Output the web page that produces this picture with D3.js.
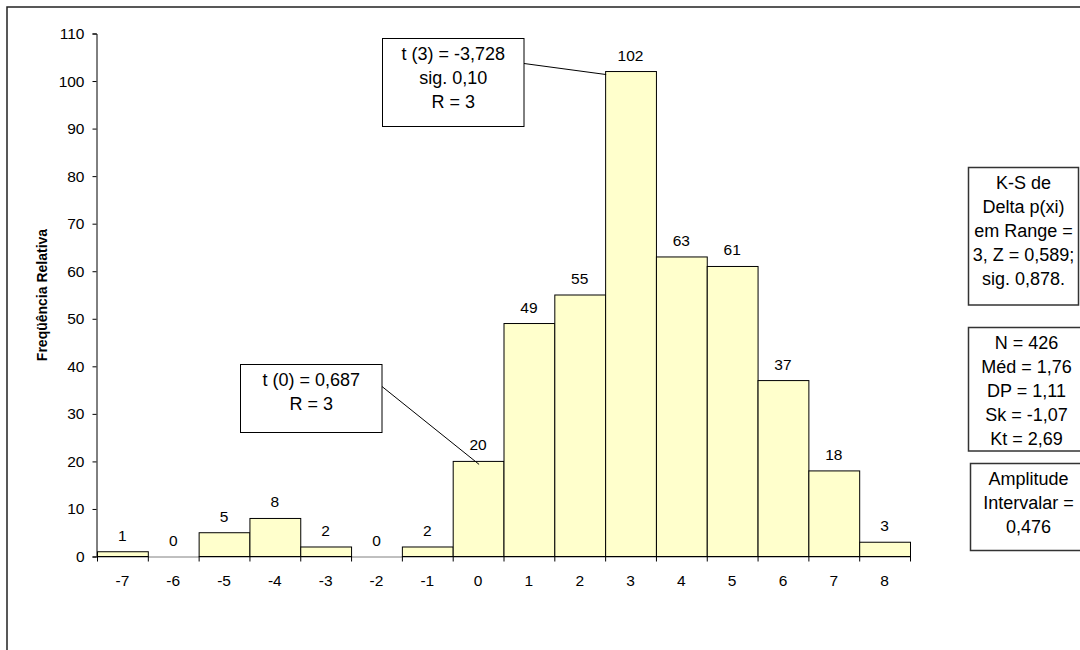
<!DOCTYPE html>
<html>
<head>
<meta charset="utf-8">
<script src="https://cdn.jsdelivr.net/npm/d3@7"></script>
<style>
  html, body { margin: 0; padding: 0; background: #fff; }
  svg { display: block; font-family: "Liberation Sans", Arial, sans-serif; }
</style>
</head>
<body>
<svg id="chart" width="1080" height="650"></svg>
<script>
// ---- data ----
const categories = ["-7","-6","-5","-4","-3","-2","-1","0","1","2","3","4","5","6","7","8"];
const frequencies = [1, 0, 5, 8, 2, 0, 2, 20, 49, 55, 102, 63, 61, 37, 18, 3];
const yTicks = [0, 10, 20, 30, 40, 50, 60, 70, 80, 90, 100, 110];
const yTitle = "Freqüência Relativa";
const note3Lines = ["t (3) = -3,728", "sig. 0,10", "R = 3"];
const note0Lines = ["t (0) = 0,687", "R = 3"];
const ksLines = ["K-S de", "Delta p(xi)", "em Range =", "3, Z = 0,589;", "sig. 0,878."];
const statsLines = ["N = 426", "Méd = 1,76", "DP = 1,11", "Sk = -1,07", "Kt = 2,69"];
const ampLines = ["Amplitude", "Intervalar =", "0,476"];

const svg = d3.select("#chart");

// outer frame
svg.append("rect").attr("x", 7).attr("y", 7).attr("width", 1090).attr("height", 660)
  .attr("fill", "none").attr("stroke", "#222").attr("stroke-width", 1.5);

const x = d3.scaleBand().domain(categories).range([97, 910]).padding(0);
const y = d3.scaleLinear().domain([0, 110]).range([556.5, 33.5]);

// y axis
const yAxis = svg.append("g").attr("transform", "translate(96.5,0)")
  .call(d3.axisLeft(y).tickValues(yTicks).tickSize(4).tickPadding(8));
yAxis.select(".domain").attr("stroke", "#000");
yAxis.selectAll(".tick line").attr("stroke", "#000");
yAxis.selectAll(".tick text").attr("font-size", "15.5px").attr("fill", "#000")
  .attr("font-family", "'Liberation Sans', Arial, sans-serif");

// x baseline
svg.append("line").attr("x1", x.range()[0]).attr("x2", x.range()[1])
  .attr("y1", y(0) + 0.5).attr("y2", y(0) + 0.5).attr("stroke", "#808080");

// bars
svg.append("g").selectAll("rect").data(frequencies).join("rect")
  .attr("x", (d, i) => x(categories[i]) + 0.5)
  .attr("y", d => y(d))
  .attr("width", x.bandwidth())
  .attr("height", d => y(0) - y(d))
  .attr("fill", "#FFFFCC").attr("stroke", "#000").attr("stroke-width", 1);

// x ticks at bin edges
const edges = categories.map(c => x(c)).concat([x.range()[1]]);
svg.append("g").selectAll("line").data(edges).join("line")
  .attr("x1", d => d + 0.5).attr("x2", d => d + 0.5)
  .attr("y1", y(0)).attr("y2", y(0) + 5).attr("stroke", "#000");

// x tick labels
svg.append("g").selectAll("text").data(categories).join("text")
  .attr("x", d => x(d) + x.bandwidth() / 2)
  .attr("y", 585.5)
  .attr("text-anchor", "middle").attr("font-size", "15.5px").text(d => d);

// value labels
svg.append("g").selectAll("text").data(frequencies).join("text")
  .attr("x", (d, i) => x(categories[i]) + x.bandwidth() / 2)
  .attr("y", d => y(d) - 11)
  .attr("text-anchor", "middle").attr("font-size", "15.5px").text(d => d);

// y title
svg.append("text")
  .attr("transform", `translate(47,${(y(0) + y(110)) / 2}) rotate(-90)`)
  .attr("text-anchor", "middle").attr("font-size", "14px").attr("font-weight", "bold")
  .text(yTitle);

// annotation boxes
function box(x0, y0, w, h, lines, firstY, stroke, sw) {
  svg.append("rect").attr("x", x0).attr("y", y0).attr("width", w).attr("height", h)
    .attr("fill", "#fff").attr("stroke", stroke).attr("stroke-width", sw);
  const g = svg.append("g");
  lines.forEach((t, i) => {
    g.append("text").attr("x", x0 + w / 2).attr("y", firstY + i * 24)
      .attr("text-anchor", "middle").attr("dominant-baseline", "central")
      .attr("font-size", "18px").text(t);
  });
}

// leader lines
svg.append("line").attr("x1", 524).attr("y1", 63.5)
  .attr("x2", x("3") + 1).attr("y2", y(102) + 3).attr("stroke", "#000");
svg.append("line").attr("x1", 382).attr("y1", 386.5)
  .attr("x2", x("0") + x.bandwidth() / 2 + 1).attr("y2", y(20) + 3).attr("stroke", "#000");

box(382.5, 38.5, 141.5, 88, note3Lines, 53.5, "#000", 1);
box(240.5, 364.5, 141.5, 68, note0Lines, 379.5, "#000", 1);
box(968.5, 167.5, 110, 137.5, ksLines, 182.5, "#333", 1.5);
box(968.5, 327.5, 116, 123.5, statsLines, 343, "#333", 1.5);
box(970.5, 463.5, 116, 87, ampLines, 478.5, "#333", 1.5);
</script>
</body>
</html>
